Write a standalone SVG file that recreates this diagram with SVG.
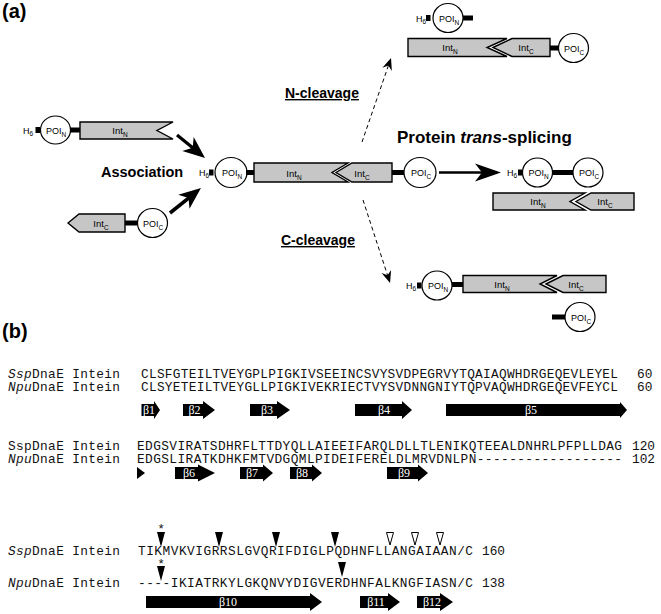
<svg xmlns="http://www.w3.org/2000/svg" width="661" height="614" viewBox="0 0 661 614">
<style>
.t{font-family:"Liberation Sans",Arial,sans-serif;fill:#000}
.lbl{font-size:9.5px;text-anchor:middle}
.poi{font-size:9px;text-anchor:middle}
.h6{font-size:9px}
.sub{font-size:6.5px}
.box{fill:#c6c6c6;stroke:#000;stroke-width:1.4;stroke-linejoin:miter}
.circ{fill:#fff;stroke:#000;stroke-width:1.2}
.bar{fill:#000}
.bold{font-weight:bold}
.seq{font-family:"Liberation Mono","Courier New",monospace;font-size:12.8px;fill:#111}
.st{fill:#000}
.sl{font-family:"Liberation Serif","Times New Roman",serif;font-size:12px;fill:#fff;text-anchor:middle}
.ar{stroke:#000;fill:none}
.tri{fill:#000}
.otri{fill:#fff;stroke:#000;stroke-width:1}
</style>
<defs>
<marker id="mA" markerUnits="userSpaceOnUse" markerWidth="30" markerHeight="30" refX="-10" refY="0" orient="auto" overflow="visible"><path d="M0,0 L-22,-9 L-16,0 L-22,9 Z" fill="#000"/></marker>
<marker id="mP" markerUnits="userSpaceOnUse" markerWidth="30" markerHeight="30" refX="-12" refY="0" orient="auto" overflow="visible"><path d="M0,0 L-26,-9 L-19,0 L-26,9 Z" fill="#000"/></marker>
<marker id="mD" markerUnits="userSpaceOnUse" markerWidth="20" markerHeight="20" refX="-5" refY="0" orient="auto" overflow="visible"><path d="M0,0 L-12,-5 L-8,0 L-12,5 Z" fill="#000"/></marker>
</defs>

<text class="t bold" x="2" y="18" font-size="20">(a)</text>
<text class="t bold" x="2" y="338" font-size="20">(b)</text>

<g id="connectors">
<line class="ar" x1="177" y1="135" x2="197.3" y2="151.6" stroke-width="3.2" marker-end="url(#mA)"/>
<line class="ar" x1="170" y1="213" x2="193.2" y2="194.3" stroke-width="3.6" marker-end="url(#mA)"/>
<line class="ar" x1="439" y1="172.5" x2="489" y2="172.5" stroke-width="2.4" marker-end="url(#mP)"/>
<line class="ar" x1="362" y1="142" x2="389.4" y2="62.7" stroke-width="1" stroke-dasharray="4,3" marker-end="url(#mD)"/>
<line class="ar" x1="363" y1="200" x2="388.5" y2="278.2" stroke-width="1" stroke-dasharray="4,3" marker-end="url(#mD)"/>
</g>

<g id="label-association"><text class="t bold" x="101" y="177" font-size="14.5">Association</text></g>
<g id="label-pts"><text class="t bold" x="397" y="143" font-size="17">Protein <tspan font-style="italic">trans</tspan>-splicing</text></g>
<g id="label-ncleavage"><text class="t bold" x="285" y="98" font-size="14" text-decoration="underline">N-cleavage</text></g>
<g id="label-ccleavage"><text class="t bold" x="281" y="245" font-size="14" text-decoration="underline">C-cleavage</text></g>

<g id="precursor-N">
<text class="t h6" x="23" y="134">H<tspan class="sub" dy="2">6</tspan></text>
<rect class="bar" x="35.5" y="127" width="4.5" height="6"/>
<ellipse class="circ" cx="55.5" cy="130" rx="15" ry="14"/>
<text class="t poi" x="56" y="133.5">POI<tspan class="sub" dy="3">N</tspan></text>
<rect class="bar" x="70" y="127.5" width="10" height="5"/>
<polygon class="box" points="80,122 173,122 157,130.5 173,139 80,139"/>
<text class="t lbl" x="120" y="134">Int<tspan class="sub" dy="3">N</tspan></text>
</g>

<g id="precursor-C">
<polygon class="box" points="68,223 79,214 125,214 125,232 79,232"/>
<text class="t lbl" x="101" y="227">Int<tspan class="sub" dy="3">C</tspan></text>
<rect class="bar" x="125" y="220.5" width="12" height="5"/>
<ellipse class="circ" cx="152.5" cy="223" rx="15" ry="14.5"/>
<text class="t poi" x="153" y="226.5">POI<tspan class="sub" dy="3">C</tspan></text>
</g>

<g id="complex">
<text class="t h6" x="199" y="176">H<tspan class="sub" dy="2">6</tspan></text>
<rect class="bar" x="209" y="169.5" width="4.5" height="6"/>
<ellipse class="circ" cx="231" cy="172.5" rx="16" ry="15"/>
<text class="t poi" x="232" y="176">POI<tspan class="sub" dy="3">N</tspan></text>
<rect class="bar" x="246" y="170" width="8" height="5"/>
<polygon class="box" points="254,163 348,163 332,172.5 348,182 254,182"/>
<polygon class="box" points="336,172.5 352,163 392,163 392,182 352,182"/>
<text class="t lbl" x="294" y="176.5">Int<tspan class="sub" dy="3">N</tspan></text>
<text class="t lbl" x="362" y="176.5">Int<tspan class="sub" dy="3">C</tspan></text>
<rect class="bar" x="392" y="170" width="12" height="5"/>
<ellipse class="circ" cx="420" cy="172.5" rx="16" ry="15"/>
<text class="t poi" x="421" y="176">POI<tspan class="sub" dy="3">C</tspan></text>
</g>

<g id="ncleavage-products">
<text class="t h6" x="416" y="21.5">H<tspan class="sub" dy="2">6</tspan></text>
<rect class="bar" x="426" y="15" width="4.5" height="6"/>
<ellipse class="circ" cx="448" cy="18" rx="15" ry="14.5"/>
<text class="t poi" x="449" y="21.5">POI<tspan class="sub" dy="3">N</tspan></text>
<rect class="bar" x="463" y="15.5" width="10" height="5"/>
<polygon class="box" points="408,38.5 507,38.5 487,47.5 507,56.5 408,56.5"/>
<polygon class="box" points="493,47.5 512,38.5 550,38.5 550,56.5 512,56.5"/>
<text class="t lbl" x="450" y="51">Int<tspan class="sub" dy="3">N</tspan></text>
<text class="t lbl" x="526" y="51">Int<tspan class="sub" dy="3">C</tspan></text>
<rect class="bar" x="550" y="45.5" width="9" height="5"/>
<ellipse class="circ" cx="573.5" cy="48" rx="15" ry="14.5"/>
<text class="t poi" x="574" y="51.5">POI<tspan class="sub" dy="3">C</tspan></text>
</g>

<g id="pts-products">
<text class="t h6" x="507" y="176">H<tspan class="sub" dy="2">6</tspan></text>
<rect class="bar" x="518" y="169.5" width="4.5" height="6"/>
<ellipse class="circ" cx="537.5" cy="172.5" rx="15" ry="14.5"/>
<text class="t poi" x="538.5" y="176">POI<tspan class="sub" dy="3">N</tspan></text>
<rect class="bar" x="552" y="170" width="21" height="5"/>
<ellipse class="circ" cx="588" cy="172.5" rx="15" ry="14.5"/>
<text class="t poi" x="589" y="176">POI<tspan class="sub" dy="3">C</tspan></text>
<polygon class="box" points="493,193 585,193 570,201.5 585,210 493,210"/>
<polygon class="box" points="576,201.5 591,193 634,193 634,210 591,210"/>
<text class="t lbl" x="538" y="205">Int<tspan class="sub" dy="3">N</tspan></text>
<text class="t lbl" x="605" y="205">Int<tspan class="sub" dy="3">C</tspan></text>
</g>

<g id="ccleavage-products">
<text class="t h6" x="406" y="289">H<tspan class="sub" dy="2">6</tspan></text>
<rect class="bar" x="417" y="282.5" width="4.5" height="6"/>
<ellipse class="circ" cx="437" cy="285.5" rx="15" ry="14.5"/>
<text class="t poi" x="438" y="289">POI<tspan class="sub" dy="3">N</tspan></text>
<rect class="bar" x="452" y="282" width="11" height="5"/>
<polygon class="box" points="463,275.5 557,275.5 540,284 557,292.5 463,292.5"/>
<polygon class="box" points="546,284 563,275.5 606,275.5 606,292.5 563,292.5"/>
<text class="t lbl" x="502" y="288">Int<tspan class="sub" dy="3">N</tspan></text>
<text class="t lbl" x="576" y="288">Int<tspan class="sub" dy="3">C</tspan></text>
<rect class="bar" x="552" y="314.5" width="13" height="5"/>
<ellipse class="circ" cx="580" cy="317" rx="15" ry="14.5"/>
<text class="t poi" x="581" y="320.5">POI<tspan class="sub" dy="3">C</tspan></text>
</g>

<g id="block1">
<text class="seq" x="8" y="378" textLength="112" lengthAdjust="spacing"><tspan font-style="italic">Ssp</tspan>DnaE Intein</text>
<text class="seq" x="141" y="378" textLength="477" lengthAdjust="spacing">CLSFGTEILTVEYGPLPIGKIVSEEINCSVYSVDPEGRVYTQAIAQWHDRGEQEVLEYEL</text>
<text class="seq" x="637" y="378">60</text>
<text class="seq" x="8" y="391" textLength="112" lengthAdjust="spacing"><tspan font-style="italic">Npu</tspan>DnaE Intein</text>
<text class="seq" x="141" y="391" textLength="477" lengthAdjust="spacing">CLSYETEILTVEYGLLPIGKIVEKRIECTVYSVDNNGNIYTQPVAQWHDRGEQEVFEYCL</text>
<text class="seq" x="637" y="391">60</text>
</g>
<g id="strands1">
<path class="st" d="M141.5,404 H154 V401 L160,410 L154,419 V416 H141.5 Z"/><text class="sl" x="149" y="414">β1</text>
<path class="st" d="M183,404 H203 V401 L215,410 L203,419 V416 H183 Z"/><text class="sl" x="194.5" y="414">β2</text>
<path class="st" d="M250,404 H277 V401 L290,410 L277,419 V416 H250 Z"/><text class="sl" x="267" y="414">β3</text>
<path class="st" d="M355,404 H402 V401 L412,410 L402,419 V416 H355 Z"/><text class="sl" x="384" y="414">β4</text>
<path class="st" d="M446,404 H620 V402 L627,410 L620,418 V416 H446 Z"/><text class="sl" x="531" y="414">β5</text>
</g>

<g id="block2">
<text class="seq" x="8" y="450" textLength="112" lengthAdjust="spacing">SspDnaE Intein</text>
<text class="seq" x="137" y="450" textLength="485" lengthAdjust="spacing">EDGSVIRATSDHRFLTTDYQLLAIEEIFARQLDLLTLENIKQTEEALDNHRLPFPLLDAG</text>
<text class="seq" x="632" y="450">120</text>
<text class="seq" x="8" y="463" textLength="112" lengthAdjust="spacing"><tspan font-style="italic">Npu</tspan>DnaE Intein</text>
<text class="seq" x="137" y="463" textLength="485" lengthAdjust="spacing">EDGSLIRATKDHKFMTVDGQMLPIDEIFERELDLMRVDNLPN------------------</text>
<text class="seq" x="632" y="463">102</text>
</g>
<g id="strands2">
<path class="st" d="M137,467 L145,473 L137,479 Z"/>
<path class="st" d="M175,467 H198 V464.5 L215,473 L198,481.5 V479 H175 Z"/><text class="sl" x="189" y="477">β6</text>
<path class="st" d="M240,467 H263 V464.5 L273,473 L263,481.5 V479 H240 Z"/><text class="sl" x="252" y="477">β7</text>
<path class="st" d="M290,467 H312 V464.5 L322,473 L312,481.5 V479 H290 Z"/><text class="sl" x="302" y="477">β8</text>
<path class="st" d="M387,467 H418 V464.5 L428,473 L418,481.5 V479 H387 Z"/><text class="sl" x="404" y="477">β9</text>
</g>

<g id="block3">
<text class="seq" x="8" y="555" textLength="112" lengthAdjust="spacing"><tspan font-style="italic">Ssp</tspan>DnaE Intein</text>
<text class="seq" x="138" y="555" textLength="335" lengthAdjust="spacing">TIKMVKVIGRRSLGVQRIFDIGLPQDHNFLLANGAIAAN/C</text>
<text class="seq" x="482" y="555">160</text>
<text class="seq" x="8" y="587" textLength="112" lengthAdjust="spacing"><tspan font-style="italic">Npu</tspan>DnaE Intein</text>
<text class="seq" x="138" y="587" textLength="335" lengthAdjust="spacing">----IKIATRKYLGKQNVYDIGVERDHNFALKNGFIASN/C</text>
<text class="seq" x="482" y="587">138</text>
</g>
<g id="sites">
<text class="seq" x="161" y="533" text-anchor="middle">*</text>
<polygon class="tri" points="157,532 165,532 161,547"/>
<polygon class="tri" points="215,532 223,532 219,547"/>
<polygon class="tri" points="272,532 280,532 276,547"/>
<polygon class="tri" points="331,532 339,532 335,547"/>
<polygon class="otri" points="386.5,532.5 393.5,532.5 390,545"/>
<polygon class="otri" points="411.5,532.5 418.5,532.5 415,545"/>
<polygon class="otri" points="436.5,532.5 443.5,532.5 440,545"/>
<text class="seq" x="161" y="568" text-anchor="middle">*</text>
<polygon class="tri" points="157,566 165,566 161,581"/>
<polygon class="tri" points="338,562 346,562 342,577"/>
</g>
<g id="strands3">
<path class="st" d="M146,596 H310 V593 L322,602 L310,611 V608 H146 Z"/><text class="sl" x="228" y="606">β10</text>
<path class="st" d="M360,596 H388 V593 L400,602 L388,611 V608 H360 Z"/><text class="sl" x="376" y="606">β11</text>
<path class="st" d="M417,596 H440 V593 L453,602 L440,611 V608 H417 Z"/><text class="sl" x="432" y="606">β12</text>
</g>
</svg>
